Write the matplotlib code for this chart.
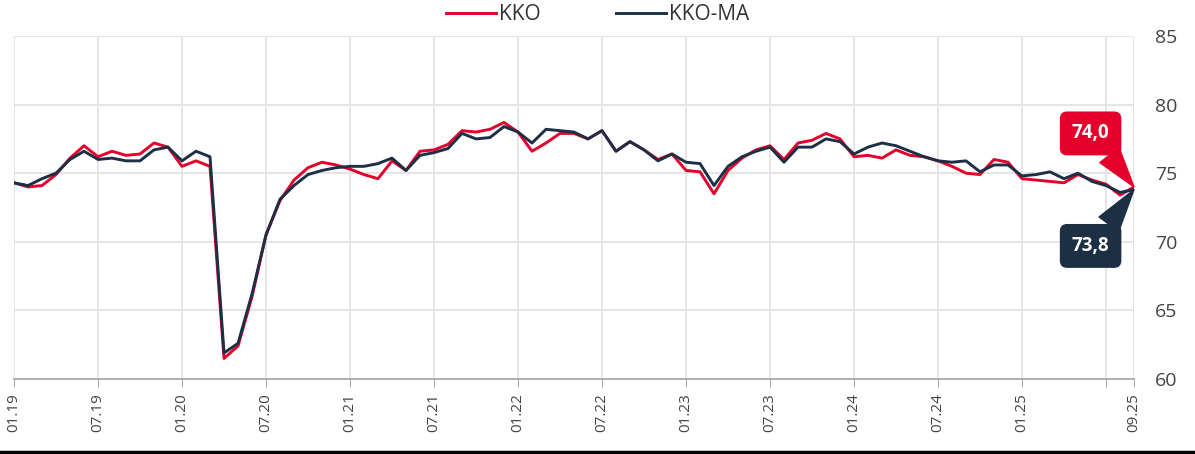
import pandas as pd
import matplotlib.pyplot as plt
import numpy as np
from matplotlib.lines import Line2D

plt.rcParams['font.family'] = ['Open Sans', 'DejaVu Sans']

# monatswerte 01.2019 - 09.2025
monate = pd.date_range('2019-01-01', '2025-09-01', freq='MS')

kko = [74.3, 74.0, 74.1, 74.9, 76.1, 77.0, 76.2, 76.6, 76.3, 76.4, 77.2, 76.9,
       75.5, 75.9, 75.5, 61.5, 62.4, 66.0, 70.5, 73.0, 74.5, 75.4, 75.8, 75.6,
       75.3, 74.9, 74.6, 75.9, 75.2, 76.6, 76.7, 77.1, 78.1, 78.0, 78.2, 78.7,
       78.0, 76.6, 77.2, 77.9, 77.9, 77.5, 78.1, 76.6, 77.3, 76.7, 76.0, 76.4,
       75.2, 75.1, 73.5, 75.2, 76.1, 76.7, 77.0, 76.0, 77.2, 77.4, 77.9, 77.5,
       76.2, 76.3, 76.1, 76.7, 76.3, 76.2, 75.9, 75.5, 75.0, 74.9, 76.0, 75.8,
       74.6, 74.5, 74.4, 74.3, 74.9, 74.5, 74.2, 73.4, 74.0]

kko_ma = [74.3, 74.1, 74.6, 75.0, 76.0, 76.6, 76.0, 76.1, 75.9, 75.9, 76.7, 76.9,
          75.9, 76.6, 76.2, 61.9, 62.6, 66.2, 70.5, 73.1, 74.1, 74.9, 75.2, 75.4,
          75.5, 75.5, 75.7, 76.1, 75.2, 76.3, 76.5, 76.8, 77.9, 77.5, 77.6, 78.4,
          78.0, 77.2, 78.2, 78.1, 78.0, 77.5, 78.1, 76.6, 77.3, 76.7, 75.9, 76.4,
          75.8, 75.7, 74.1, 75.5, 76.2, 76.6, 76.9, 75.8, 76.9, 76.9, 77.5, 77.3,
          76.4, 76.9, 77.2, 77.0, 76.6, 76.2, 75.9, 75.8, 75.9, 75.1, 75.6, 75.6,
          74.8, 74.9, 75.1, 74.6, 75.0, 74.4, 74.1, 73.6, 73.8]

rot = '#e4002b'
blau = '#1d2f45'

x = np.arange(len(monate))

fig = plt.figure(figsize=(11.95, 4.54), dpi=100)
ax = fig.add_axes([14 / 1195, 1 - 379 / 454, 1120 / 1195, 343 / 454])

ax.plot(x, kko, color=rot, lw=2.1, label='KKO')
ax.plot(x, kko_ma, color=blau, lw=2.1, label='KKO-MA')

ax.set_xlim(0, len(x) - 1)
ax.set_ylim(60, 85)
ax.set_yticks(range(60, 86, 5))
ax.yaxis.tick_right()
ax.tick_params(axis='y', length=0, pad=15, labelsize=14, labelcolor='#444444')

tick_pos = list(range(0, len(x), 6)) + [len(x) - 1]
tick_lab = [monate[i].strftime('%m.%y') for i in tick_pos]
tick_lab[-2] = ''
ax.set_xticks(tick_pos)
ax.set_xticklabels(tick_lab, rotation=90, fontsize=11, color='#444444')
ax.tick_params(axis='x', length=6, color='#aaaaaa', pad=4)

ax.grid(True, color='#e3e3e3', lw=1.3)
ax.set_axisbelow(True)
for s in ['top', 'right', 'left']:
    ax.spines[s].set_visible(False)
ax.spines['bottom'].set_color('#aaaaaa')
ax.spines['bottom'].set_linewidth(1.3)

# callouts am letzten wert
box = 'round,pad=0.6,rounding_size=0.35'
ax.annotate(f'{kko[-1]:.1f}'.replace('.', ','), xy=(x[-1], kko[-1]), xytext=(76.9, 77.9),
            ha='center', va='center', color='white', fontsize=13.5, fontweight='bold',
            bbox=dict(boxstyle=box, fc=rot, ec=rot),
            arrowprops=dict(arrowstyle='wedge,tail_width=1.3', fc=rot, ec=rot,
                            shrinkA=0, shrinkB=0, relpos=(0.72, 0.1)),
            annotation_clip=False)
ax.annotate(f'{kko_ma[-1]:.1f}'.replace('.', ','), xy=(x[-1], kko_ma[-1]), xytext=(76.9, 69.7),
            ha='center', va='center', color='white', fontsize=13.5, fontweight='bold',
            bbox=dict(boxstyle=box, fc=blau, ec=blau),
            arrowprops=dict(arrowstyle='wedge,tail_width=1.3', fc=blau, ec=blau,
                            shrinkA=0, shrinkB=0, relpos=(0.72, 0.9)),
            annotation_clip=False)

fig.legend(loc='center', bbox_to_anchor=(0.5, 0.968), ncol=2, frameon=False,
           fontsize=15, handlelength=2.4, columnspacing=3.6, handletextpad=0.15,
           labelcolor='#333333')

fig.add_artist(Line2D([0, 1], [0.004, 0.004], color='black', lw=2.5))

fig.savefig('out.png', dpi=100)
